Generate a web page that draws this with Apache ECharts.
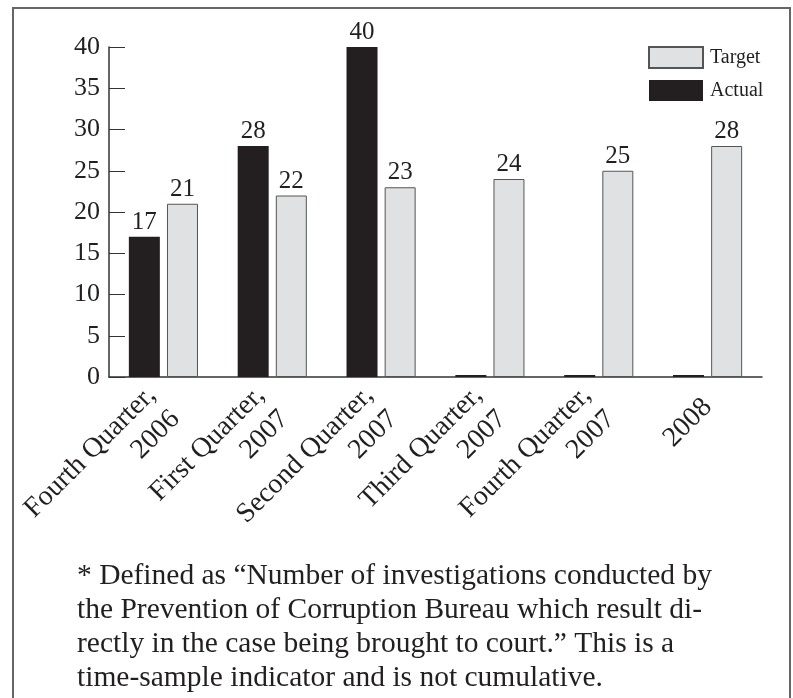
<!DOCTYPE html>
<html>
<head>
<meta charset="utf-8">
<script src="https://cdn.jsdelivr.net/npm/echarts@6/dist/echarts.min.js"></script>
<style>
  html, body { margin: 0; padding: 0; background: #fff; }
  #chart { width: 793px; height: 698px; }
</style>
</head>
<body>
<div id="chart"></div>
<script>
const categories = [
  'Fourth Quarter,\n2006',
  'First Quarter,\n2007',
  'Second Quarter,\n2007',
  'Third Quarter,\n2007',
  'Fourth Quarter,\n2007',
  '2008'
]
const actual = [17, 28, 40, 0, 0, 0]
const target = [21, 22, 23, 24, 25, 28]
const yTicks = { min: 0, max: 40, interval: 5 }
const footnote = [
  '* Defined as \u201cNumber of investigations conducted by',
  'the Prevention of Corruption Bureau which result di-',
  'rectly in the case being brought to court.\u201d This is a',
  'time-sample indicator and is not cumulative.'
]

const ink = '#231f20'
const serif = '"Liberation Serif", "DejaVu Serif", serif'

const chart = echarts.init(document.getElementById('chart'))

const barLabel = {
  show: true,
  position: 'top',
  distance: 2,
  color: ink,
  fontFamily: serif,
  fontSize: 25,
  formatter: p => (p.value ? p.value : '')
}

chart.setOption({
  animation: false,
  backgroundColor: '#fff',
  grid: { left: 109, right: 31, top: 47, bottom: 321 },
  legend: {
    data: ['Target', 'Actual'],
    orient: 'vertical',
    left: 648,
    top: 46,
    padding: 0,
    itemWidth: 54,
    itemHeight: 21,
    itemGap: 11,
    icon: 'rect',
    textStyle: { color: ink, fontFamily: serif, fontSize: 20, padding: [0, 0, 0, 2] }
  },
  xAxis: {
    type: 'category',
    data: categories,
    axisLine: { lineStyle: { color: '#333', width: 1.5 } },
    axisTick: { inside: true, length: 8, lineStyle: { color: '#333' } },
    axisLabel: {
      interval: 0,
      rotate: 45,
      margin: 26,
      color: ink,
      fontFamily: serif,
      fontSize: 28,
      lineHeight: 34
    }
  },
  yAxis: {
    type: 'value',
    min: yTicks.min,
    max: yTicks.max,
    interval: yTicks.interval,
    splitLine: { show: false },
    axisLine: { show: true, lineStyle: { color: '#333', width: 1.5 } },
    axisTick: { show: true, inside: true, length: 16, lineStyle: { color: '#333' } },
    axisLabel: { margin: 9, color: ink, fontFamily: serif, fontSize: 26 }
  },
  series: [
    {
      name: 'Actual',
      type: 'bar',
      data: actual,
      barWidth: 31,
      barGap: '23%',
      barMinHeight: 2,
      itemStyle: { color: ink },
      label: barLabel
    },
    {
      name: 'Target',
      type: 'bar',
      data: target,
      barWidth: 31,
      itemStyle: { color: '#e0e1e3', borderColor: '#555', borderWidth: 1 },
      label: barLabel
    }
  ],
  graphic: [
    {
      type: 'rect',
      shape: { x: 13, y: 8, width: 777, height: 720 },
      style: { fill: 'none', stroke: '#666', lineWidth: 2 },
      silent: true
    },
    ...footnote.map((line, i) => ({
      type: 'text',
      left: 77,
      top: 561 + i * 34,
      style: { text: line, fill: ink, font: '29.5px ' + serif }
    }))
  ]
})
</script>
</body>
</html>
